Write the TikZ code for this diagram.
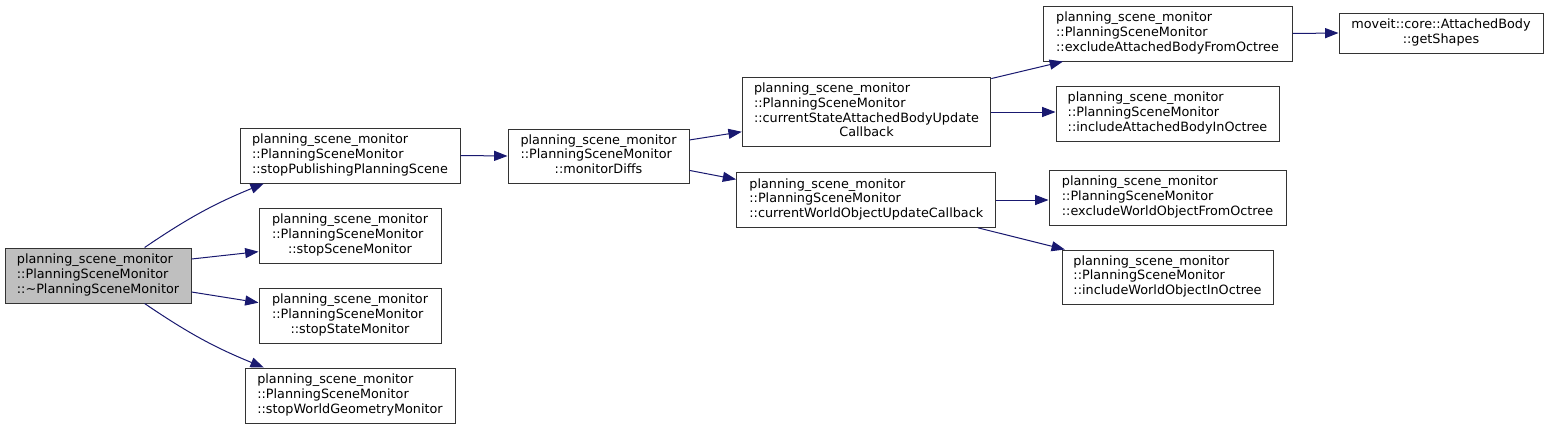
\documentclass[tikz,border=0pt]{standalone}
\usepackage{fontspec}
\setmainfont{DejaVu Sans}
\usetikzlibrary{arrows.meta}
\definecolor{callblue}{HTML}{191970}
\definecolor{rootbg}  {HTML}{BFBFBF}
\definecolor{frame}   {HTML}{333333}
% first lines left, last line centred
\newcommand{\fnlabel}[2]{\begin{tabular}{@{}l@{}}#1\\\multicolumn{1}{@{}c@{}}{#2}\end{tabular}}
\tikzset{
  fn/.style    ={draw=frame, fill=white, line width=0.75pt, inner sep=0pt,
                 minimum height=41.25pt, font=\fontsize{9.6}{11}\selectfont},
  rootfn/.style={fn, fill=rootbg},
  call/.style  ={-{Triangle[length=10pt,width=7.5pt]}, draw=callblue,
                 line width=0.75pt},
}
\begin{document}
\begin{tikzpicture}[x=0.75pt,y=-0.75pt]
  \useasboundingbox[fill=white] (0,0) rectangle (1548,429);

  \node[rootfn,minimum width=139.5pt] (root) at (98,275.5)
    {\fnlabel{planning\_scene\_monitor\\::PlanningSceneMonitor}{::\textasciitilde PlanningSceneMonitor}};

  \node[fn,minimum width=165pt]   (spp) at (350,155.5)
    {\fnlabel{planning\_scene\_monitor\\::PlanningSceneMonitor}{::stopPublishingPlanningScene}};
  \node[fn,minimum width=136.5pt] (ssm) at (350,235.5)
    {\fnlabel{planning\_scene\_monitor\\::PlanningSceneMonitor}{::stopSceneMonitor}};
  \node[fn,minimum width=136.5pt] (stm) at (350,315.5)
    {\fnlabel{planning\_scene\_monitor\\::PlanningSceneMonitor}{::stopStateMonitor}};
  \node[fn,minimum width=157.5pt] (swg) at (350,395.5)
    {\fnlabel{planning\_scene\_monitor\\::PlanningSceneMonitor}{::stopWorldGeometryMonitor}};

  \node[fn,minimum width=135.75pt,minimum height=40.5pt] (md) at (598.5,156)
    {\fnlabel{planning\_scene\_monitor\\::PlanningSceneMonitor}{::monitorDiffs}};

  \node[fn,minimum width=186.4pt,minimum height=52pt] (csa) at (866.5,112)
    {\fnlabel{planning\_scene\_monitor\\::PlanningSceneMonitor\\::currentStateAttachedBodyUpdate}{Callback}};
  \node[fn,minimum width=194.5pt,minimum height=41pt] (cwo) at (866.3,200)
    {\fnlabel{planning\_scene\_monitor\\::PlanningSceneMonitor}{::currentWorldObjectUpdateCallback}};

  \node[fn,minimum width=186.75pt] (eab) at (1167.5,33.5)
    {\fnlabel{planning\_scene\_monitor\\::PlanningSceneMonitor}{::excludeAttachedBodyFromOctree}};
  \node[fn,minimum width=153pt,minimum height=30pt] (gs) at (1441,33)
    {\fnlabel{moveit::core::AttachedBody}{::getShapes}};
  \node[fn,minimum width=167.25pt] (iab) at (1167.5,113.5)
    {\fnlabel{planning\_scene\_monitor\\::PlanningSceneMonitor}{::includeAttachedBodyInOctree}};
  \node[fn,minimum width=177.75pt] (ewo) at (1167.5,197.5)
    {\fnlabel{planning\_scene\_monitor\\::PlanningSceneMonitor}{::excludeWorldObjectFromOctree}};
  \node[fn,minimum width=158.25pt,minimum height=40.5pt] (iwo) at (1167.5,277)
    {\fnlabel{planning\_scene\_monitor\\::PlanningSceneMonitor}{::includeWorldObjectInOctree}};

  % calls
  \draw[call] (root.31)  to[bend left=6]  (spp.-162);
  \draw[call] (root.10)  -- (ssm.190);
  \draw[call] (root.-10) -- (stm.172);
  \draw[call] (root.-31) to[bend right=6] (swg.162);
  \draw[call] (spp.east) -- (md.west);
  \draw[call] (md.10)    -- (csa.189);
  \draw[call] (md.-9)    -- (cwo.171);
  \draw[call] (csa.15)   -- (eab.195);
  \draw[call] (csa.east) -- (csa.east -| iab.west);
  \draw[call] (cwo.east) -- (cwo.east -| ewo.west);
  \draw[call] (cwo.-14)  -- (iwo.165);
  \draw[call] (eab.east) -- (gs.west);
\end{tikzpicture}
\end{document}
